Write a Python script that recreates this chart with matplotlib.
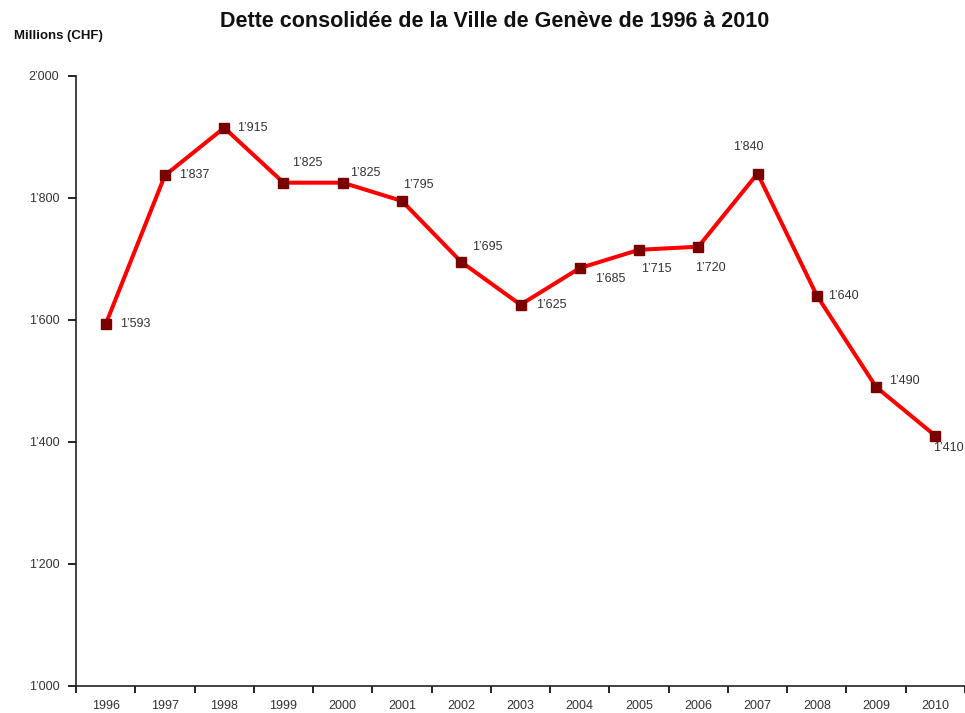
import numpy as np
import matplotlib.pyplot as plt
from matplotlib.ticker import FuncFormatter

plt.rcParams['font.family'] = ['Liberation Sans', 'DejaVu Sans']

years = ['1996', '1997', '1998', '1999', '2000', '2001', '2002', '2003',
         '2004', '2005', '2006', '2007', '2008', '2009', '2010']
debt = [1593, 1837, 1915, 1825, 1825, 1795, 1695, 1625,
        1685, 1715, 1720, 1840, 1640, 1490, 1410]
y_ticks = [1000, 1200, 1400, 1600, 1800, 2000]

# label offsets in points (dx, dy) relative to each marker
offsets = [(10, 0), (10, 0), (9, 0), (6, 14), (5, 7), (1, 11.5),
           (8, 11), (11, 0), (11, -8), (1.5, -14), (-2, -15), (-18, 19),
           (8, 0), (9, 4), (-2, -9)]


def fmt(v):
    s = '{:,}'.format(int(v))
    return s.replace(',', '\u2019')


fig = plt.figure(figsize=(9.65, 7.13), dpi=100)
ax = fig.add_axes([0.0788, 0.038, 0.9212, 0.8555])

x = np.arange(len(years))
ax.plot(x, debt, color='#ff0000', lw=2.9, zorder=2)
ax.plot(x, debt, ls='none', marker='s', ms=6.5, color='#7a0000', zorder=3)

for i, v in enumerate(debt):
    ax.annotate(fmt(v), (x[i], v), xytext=offsets[i], textcoords='offset points',
                fontsize=9, color='#333333', ha='left', va='center')

ax.set_xlim(-0.5, len(years) - 0.5)
ax.set_ylim(1000, 2000)
ax.set_yticks(y_ticks)
ax.yaxis.set_major_formatter(FuncFormatter(lambda v, p: fmt(v)))
ax.set_xticks(np.arange(-0.5, len(years), 1.0))
ax.set_xticklabels([])
ax.set_xticks(x, minor=True)
ax.set_xticklabels(years, minor=True)
ax.tick_params(axis='x', which='minor', length=0, pad=10, labelsize=9, labelcolor='#333333')
ax.tick_params(axis='x', which='major', length=5, width=1.2, direction='out')
ax.tick_params(axis='y', length=6, width=1.2, pad=6, labelsize=9, labelcolor='#333333')

for side in ['top', 'right']:
    ax.spines[side].set_visible(False)
for side in ['left', 'bottom']:
    ax.spines[side].set_linewidth(1.2)
    ax.spines[side].set_color('#222222')

fig.text(0.513, 0.97, 'Dette consolid\u00e9e de la Ville de Gen\u00e8ve de 1996 \u00e0 2010',
         ha='center', va='center', fontsize=15.5, fontweight='bold', color='#111111')
fig.text(0.015, 0.95, 'Millions (CHF)', ha='left', va='center', fontsize=9.5,
         fontweight='bold', color='#111111')

fig.savefig('out.png', dpi=100)
